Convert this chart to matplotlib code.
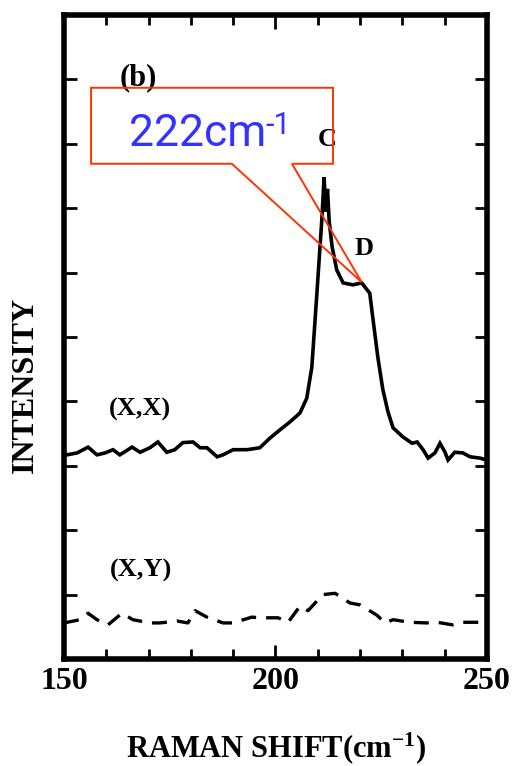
import matplotlib
matplotlib.use("Agg")
import matplotlib.pyplot as plt
from matplotlib.patches import Polygon
from matplotlib.ticker import MultipleLocator

# ---- data ----
xx_shift = [150.0, 150.7, 153.1, 155.7, 157.8, 159.7, 161.6, 163.2, 166.1, 168.0, 170.3,
            172.2, 174.3, 176.2, 178.1, 180.5, 182.2, 183.8, 186.2, 187.6, 190.0,
            193.3, 196.3, 198.7, 201.1, 203.4, 205.8, 207.4, 208.6,
            209.8, 211.0, 211.5, 211.9, 212.3, 212.7, 213.4, 214.5, 216.0, 218.3,
            220.4, 222.3, 223.0, 224.2, 225.4, 226.6, 227.8, 230.1, 232.3, 233.5,
            234.9, 236.1, 237.7, 238.9, 240.1, 240.8, 242.4, 244.3, 246.0, 248.3,
            250.0]
xx_int = [3.20, 3.17, 3.20, 3.29, 3.17, 3.20, 3.25, 3.17, 3.29, 3.21, 3.28,
          3.37, 3.21, 3.25, 3.36, 3.37, 3.28, 3.28, 3.14, 3.17, 3.25,
          3.25, 3.28, 3.43, 3.56, 3.68, 3.82, 4.05, 4.53,
          5.68, 6.86, 7.48, 6.95, 7.30, 6.80, 6.40, 6.04, 5.84, 5.81,
          5.84, 5.68, 5.31, 4.69, 4.18, 3.84, 3.59, 3.45, 3.35, 3.37,
          3.25, 3.12, 3.20, 3.35, 3.21, 3.09, 3.21, 3.20, 3.14, 3.12,
          3.09]

xy_shift = [150.0, 153.8, 155.7, 157.8, 160.4, 163.7, 166.3, 170.3, 172.7, 176.7, 179.3,
            181.0, 183.8, 187.6, 190.0, 194.4, 196.3, 200.6, 203.0, 205.8, 207.7,
            211.2, 214.1, 217.6, 220.0, 224.0, 225.9, 227.8, 231.8, 235.8, 238.2,
            241.9, 244.3, 248.3, 250.0]
xy_int = [0.56, 0.61, 0.71, 0.61, 0.53, 0.71, 0.61, 0.56, 0.56, 0.59, 0.56,
          0.75, 0.65, 0.56, 0.56, 0.65, 0.64, 0.64, 0.57, 0.82, 0.75,
          1.00, 1.02, 0.87, 0.84, 0.68, 0.56, 0.61, 0.57, 0.56, 0.57,
          0.53, 0.57, 0.57, 0.57]

x_ticklabels = ["150", "200", "250"]
x_ticks = [150, 200, 250]

# ---- figure ----
fig = plt.figure(figsize=(5.12, 7.66), dpi=100)
ax = fig.add_axes([0.125, 0.1397, 0.826, 0.8407])

serif = ["Liberation Serif", "DejaVu Serif"]

ax.plot(xx_shift, xx_int, color="black", lw=2.6, solid_joinstyle="miter")
ax.plot(xy_shift, xy_int, color="black", lw=2.4, dashes=(4.5, 3))

ax.set_xlim(150, 250)
ax.set_ylim(0, 10)
ax.set_xticks(x_ticks)
ax.set_xticklabels(x_ticklabels, fontfamily=serif, fontweight="bold", fontsize=23)
ax.xaxis.set_minor_locator(MultipleLocator(10))
ax.yaxis.set_major_locator(MultipleLocator(1))
ax.set_yticklabels([])
ax.tick_params(which="both", direction="in", top=True, right=True, width=2, color="black")
ax.tick_params(which="major", axis="x", length=10, pad=6)
ax.tick_params(which="minor", axis="x", length=7)
ax.tick_params(which="major", axis="y", length=9, left=True, labelleft=False)
for s in ax.spines.values():
    s.set_linewidth(4)

ax.set_xlabel("RAMAN SHIFT(cm$\\mathregular{^{-1}}$)", fontfamily=serif,
              fontweight="bold", fontsize=22)
ax.xaxis.set_label_coords(0.50, -0.110)
ax.set_ylabel("INTENSITY", fontfamily=serif, fontweight="bold", fontsize=23)
ax.yaxis.set_label_coords(-0.092, 0.425)
ax.yaxis.label.set_va("center")

# in-plot labels
lab = dict(fontfamily=serif, fontweight="bold", ha="center", va="center", color="black")
ax.text(167.5, 9.02, "(b)", fontsize=22, **lab)
ax.text(212.2, 8.06, "C", fontsize=19, **lab)
ax.text(220.9, 6.38, "D", fontsize=19, **lab)
ax.text(168.0, 3.88, "(X,X)", fontsize=19, **lab)
ax.text(168.2, 1.37, "(X,Y)", fontsize=19, **lab)

# callout
callout = Polygon([(156.4, 8.87), (213.6, 8.87), (213.6, 7.69), (203.9, 7.69),
                   (220.4, 5.85), (189.7, 7.69), (156.4, 7.69)],
                  closed=True, fill=False, edgecolor="#ff3300", lw=1.4,
                  clip_on=False, zorder=5)
ax.add_patch(callout)
t = ax.text(181.5, 8.15, "222cm", fontfamily="Roboto", fontsize=32,
            color="#3333ff", ha="center", va="center", zorder=6)
ax.annotate("-1", xy=(1.0, 1.04), xycoords=t, fontfamily="Roboto", fontsize=22,
            color="#3333ff", ha="left", va="top", zorder=6)

fig.savefig("out.png", dpi=100, facecolor="white")
